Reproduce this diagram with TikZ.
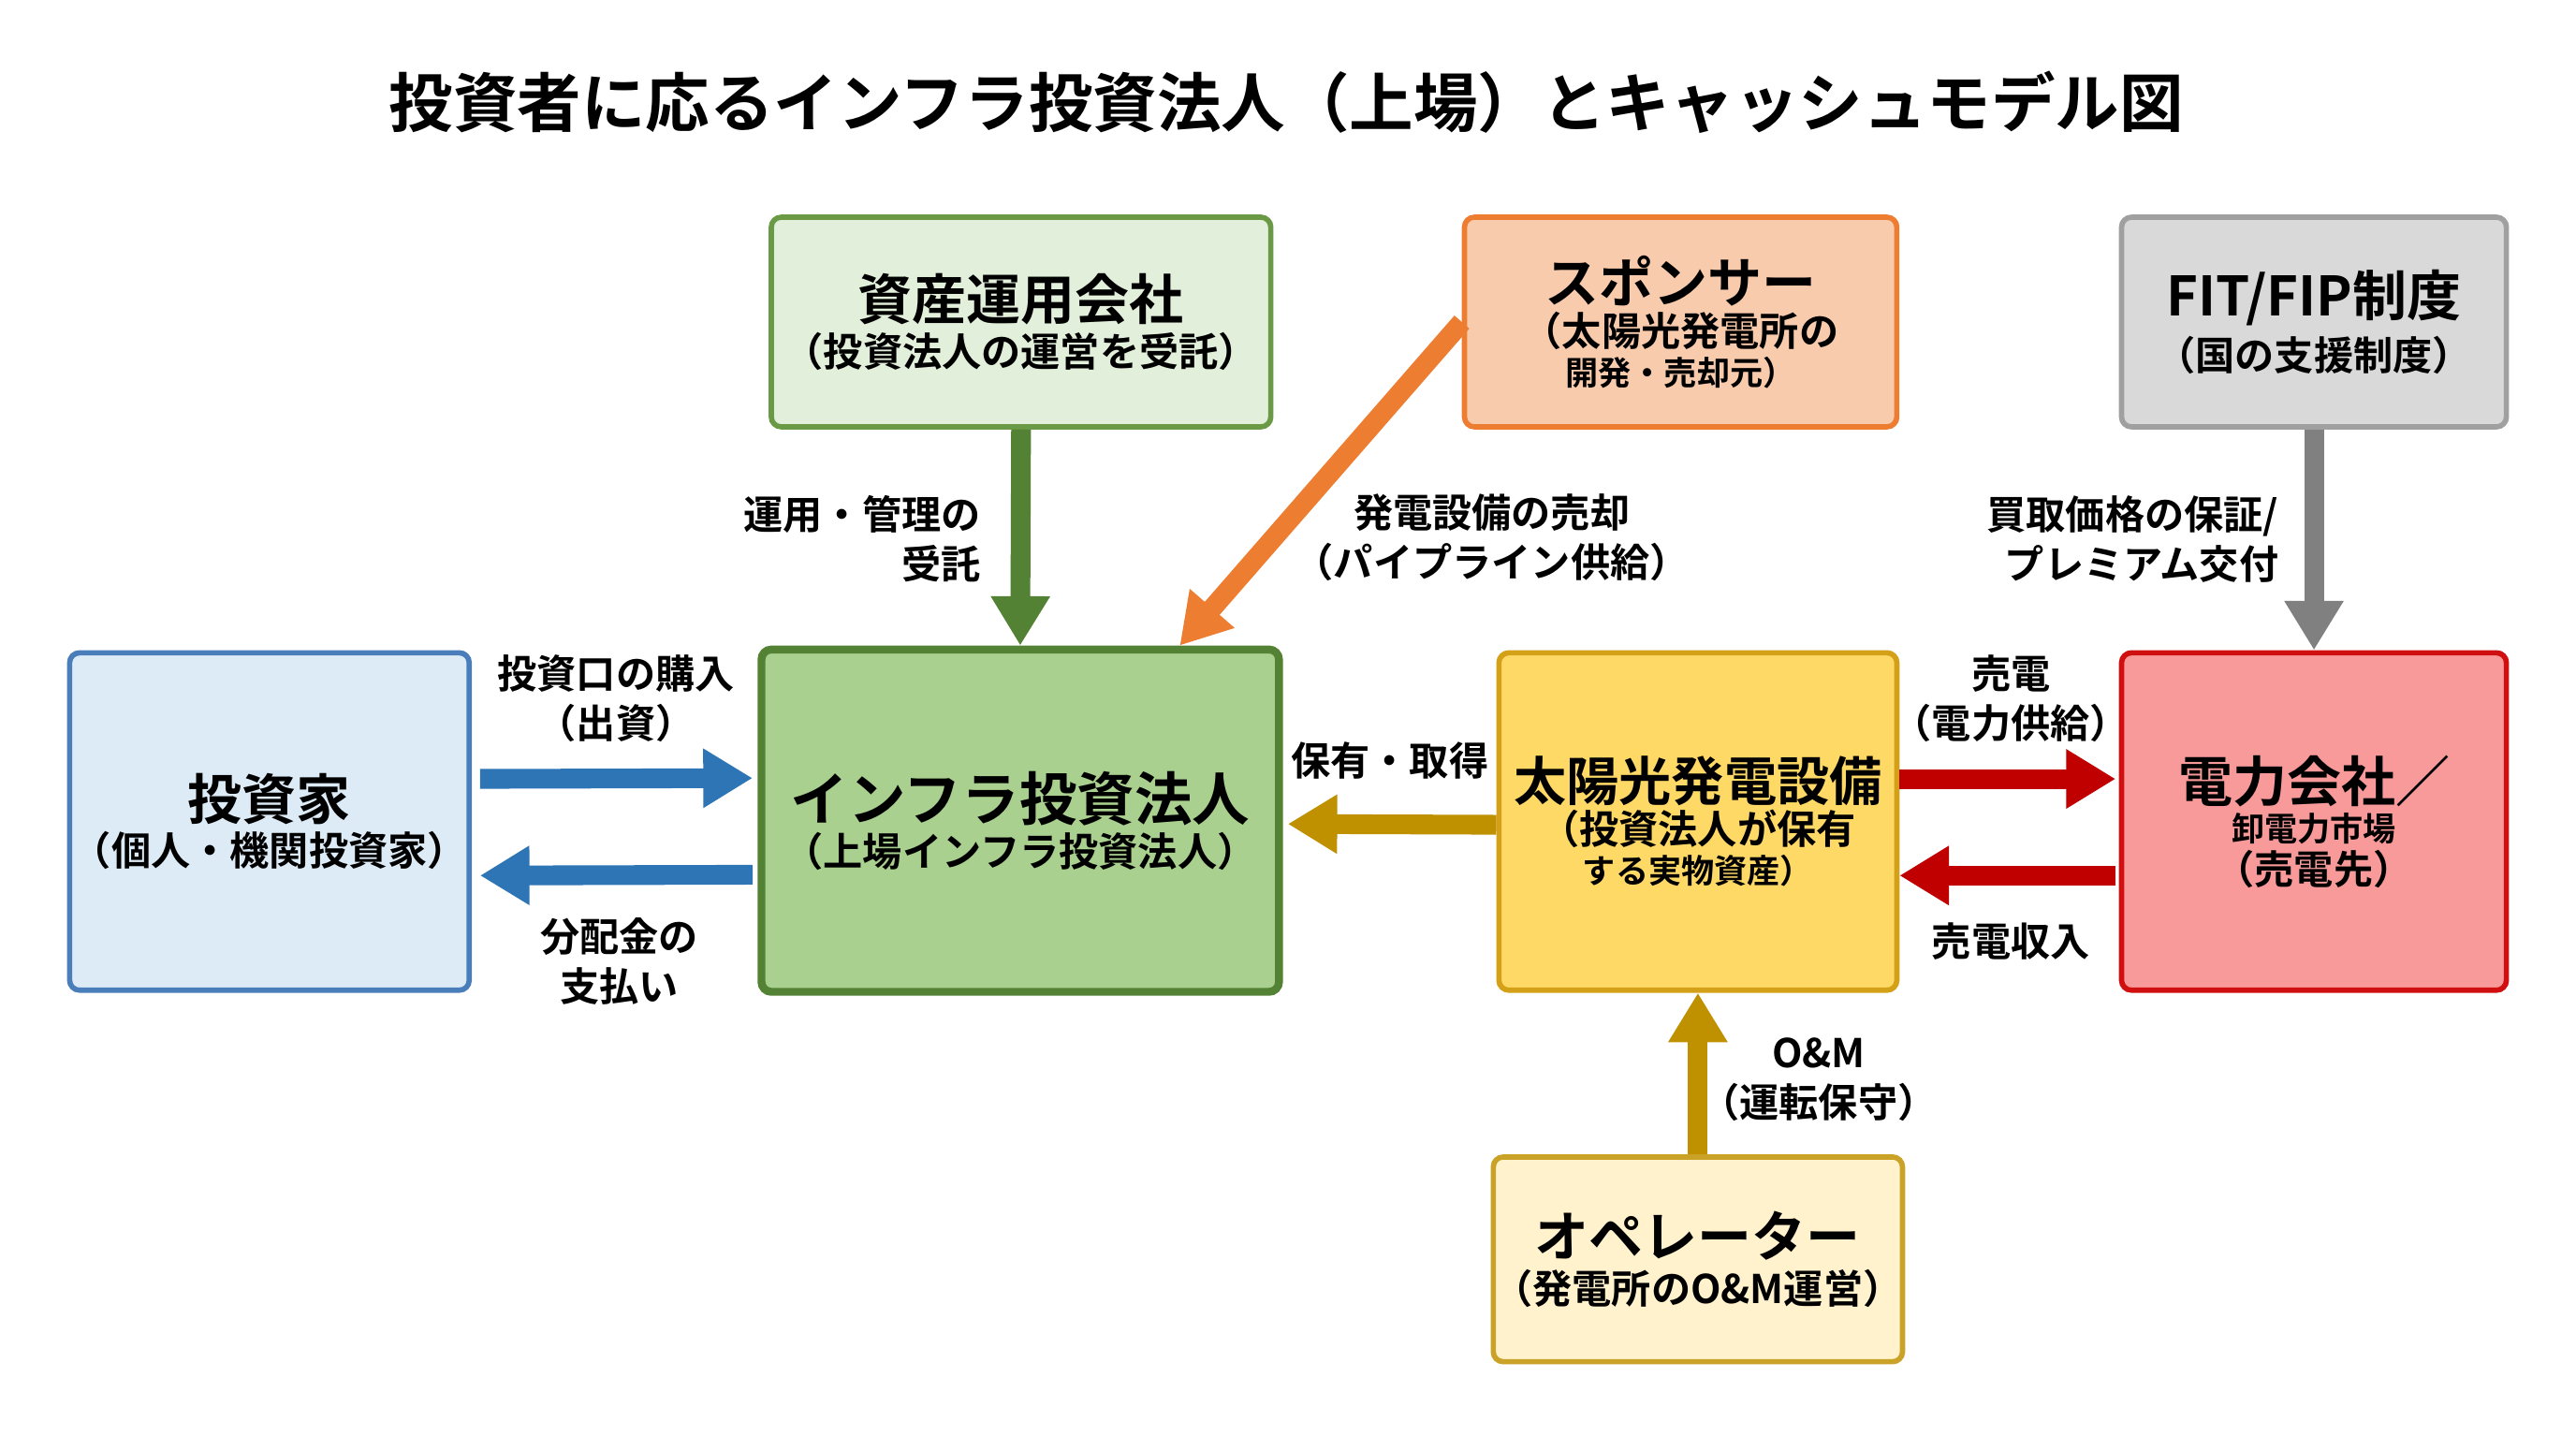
\documentclass[tikz,border=0pt]{standalone}
\usepackage{fontspec}
\setmainfont{Noto Sans CJK JP}[BoldFont={Noto Sans CJK JP Bold}]
\usetikzlibrary{arrows.meta}
\newcommand\bigf{\fontsize{16.5}{20}\selectfont}
\newcommand\subf{\fontsize{12}{15.5}\selectfont}
\begin{document}
\begin{tikzpicture}[x=0.01755cm,y=-0.01755cm,font=\bfseries,
 box/.style={draw,line width=1.6pt,rounded corners=3pt,align=center,inner sep=0pt},
 arr/.style={line width=6pt,-{Triangle[length=15pt,width=17pt]}},
 lab/.style={font=\bfseries\fontsize{12}{15}\selectfont,align=center}]
\definecolor{gA}{HTML}{E2EFDA}\definecolor{gB}{HTML}{6A9A45}
\definecolor{oA}{HTML}{F8CBAD}\definecolor{oB}{HTML}{ED7D31}
\definecolor{hA}{HTML}{D9D9D9}\definecolor{hB}{HTML}{A0A0A0}
\definecolor{bA}{HTML}{DDEBF7}\definecolor{bB}{HTML}{4A7EBB}
\definecolor{iA}{HTML}{A9D08E}\definecolor{iB}{HTML}{548235}
\definecolor{yA}{HTML}{FFD966}\definecolor{yB}{HTML}{D4A017}
\definecolor{rA}{HTML}{F79A99}\definecolor{rB}{HTML}{D01010}
\definecolor{pA}{HTML}{FFF2CC}\definecolor{pB}{HTML}{C9A227}
\definecolor{aG}{HTML}{548235}\definecolor{aB}{HTML}{2E75B6}
\definecolor{aY}{HTML}{BF9000}\definecolor{aR}{HTML}{C00000}\definecolor{aH}{HTML}{808080}
\useasboundingbox (0,0) rectangle (1568,874);
\node[font=\bfseries\fontsize{19.5}{24}\selectfont] (title) at (783,62) {投資者に応るインフラ投資法人（上場）とキャッシュモデル図};
\node[box,fill=gA,draw=gB,minimum width=305*0.4977pt,minimum height=128*0.4977pt] (am) at (621.5,196)
 {\bigf 資産運用会社\\[2pt]\subf （投資法人の運営を受託）};
\node[box,fill=oA,draw=oB,minimum width=264*0.4977pt,minimum height=128*0.4977pt] (sp) at (1023,196)
 {\bigf スポンサー\\[1pt]\subf （太陽光発電所の\\開発・売却元）};
\node[box,fill=hA,draw=hB,minimum width=235*0.4977pt,minimum height=128*0.4977pt] (fit) at (1408.5,196)
 {\bigf FIT/FIP制度\\[2pt]\subf （国の支援制度）};
\node[box,fill=bA,draw=bB,minimum width=244*0.4977pt,minimum height=206*0.4977pt] (inv) at (164,500)
 {\bigf 投資家\\[2pt]\subf （個人・機関投資家）};
\node[box,fill=iA,draw=iB,line width=2.4pt,minimum width=316*0.4977pt,minimum height=209*0.4977pt] (inf) at (621,499.5)
 {\fontsize{17.5}{21}\selectfont インフラ投資法人\\[2pt]\subf （上場インフラ投資法人）};
\node[box,fill=yA,draw=yB,minimum width=243*0.4977pt,minimum height=206*0.4977pt] (pv) at (1033.5,500)
 {\fontsize{16}{20}\selectfont 太陽光発電設備\\[1pt]\subf （投資法人が保有\\する実物資産）};
\node[box,fill=rA,draw=rB,minimum width=235*0.4977pt,minimum height=206*0.4977pt] (pw) at (1408.5,500)
 {\bigf 電力会社／\\卸電力市場\\[1pt]\subf （売電先）};
\node[box,fill=pA,draw=pB,minimum width=243*0.4977pt,minimum height=125*0.4977pt] (op) at (1033.5,766.5)
 {\bigf オペレーター\\[2pt]\subf （発電所のO\&M運営）};
% arrows
\draw[arr,aG] (am.south) -- (inf.north);
\draw[arr,oB] (sp.west) -- ([xshift=-63*0.4977pt]inf.north east);
\draw[arr,aH] (fit.south) -- (pw.north);
\draw[arr,aB,shorten <=5*0.4977pt,shorten >=3*0.4977pt] ([yshift=26*0.4977pt]inv.east) -- ([yshift=26*0.4977pt]inf.west);
\draw[arr,aB,shorten <=3*0.4977pt,shorten >=5*0.4977pt] ([yshift=-33*0.4977pt]inf.west) -- ([yshift=-33*0.4977pt]inv.east);
\draw[arr,aY,shorten >=3*0.4977pt] ([yshift=-2*0.4977pt]pv.west) -- ([yshift=-2*0.4977pt]inf.east);
\draw[arr,aR,shorten >=2*0.4977pt] ([yshift=26*0.4977pt]pv.east) -- ([yshift=26*0.4977pt]pw.west);
\draw[arr,aR,shorten <=2*0.4977pt] ([yshift=-33*0.4977pt]pw.west) -- ([yshift=-33*0.4977pt]pv.east);
\draw[arr,aY] (op.north) -- (pv.south);
% labels
\node[lab,align=right,anchor=east] (l1) at (604,328) {運用・管理の\\受託};
\node[lab] (l2) at (908,327) {発電設備の売却\\（パイプライン供給）};
\node[lab,align=right,anchor=east] (l3) at (1394,328) {買取価格の保証/\\プレミアム交付};
\node[lab] (l4) at (375,425) {投資口の購入\\（出資）};
\node[lab] (l5) at (377,585) {分配金の\\支払い};
\node[lab] (l6) at (846,463) {保有・取得};
\node[lab] (l7) at (1224,425) {売電\\（電力供給）};
\node[lab] (l8) at (1224,573) {売電収入};
\node[lab] (l9) at (1107,657) {O\&M\\（運転保守）};
\end{tikzpicture}
\end{document}
